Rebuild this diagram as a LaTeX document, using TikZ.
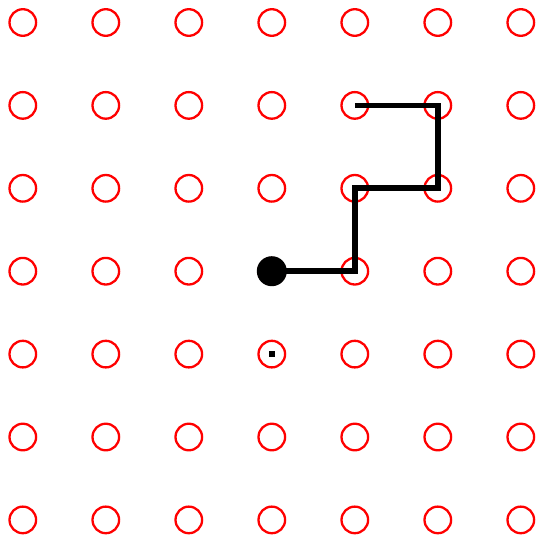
\documentclass[tikz,border=0pt]{standalone}
\begin{document}
\begin{tikzpicture}[x=1pt,y=-1pt,
  ring/.style={circle,draw=red,line width=2.3pt,minimum size=26.6pt,inner sep=0pt},
  walk/.style={line width=5.7pt,line cap=butt,line join=miter,black},
  startdot/.style={circle,fill=black,minimum size=30pt,inner sep=0pt},
  tinysq/.style={rectangle,fill=black,minimum size=6pt,inner sep=0pt}]
\useasboundingbox (0,0) rectangle (537,536);
\foreach \i in {0,...,6}{
  \foreach \j in {0,...,6}{
    \node[ring] (c-\i-\j) at (22.8+83*\i,22.5+82.9*\j) {};
  }
}
\node[startdot] (start) at (c-3-3.center) {};
\node[tinysq] (sq) at (c-3-4.center) {};
\draw[walk] (c-4-1.center) -- (c-5-1.center) -- (c-5-2.center) -- (c-4-2.center) -- (c-4-3.center) -- (start.center);
\end{tikzpicture}
\end{document}
